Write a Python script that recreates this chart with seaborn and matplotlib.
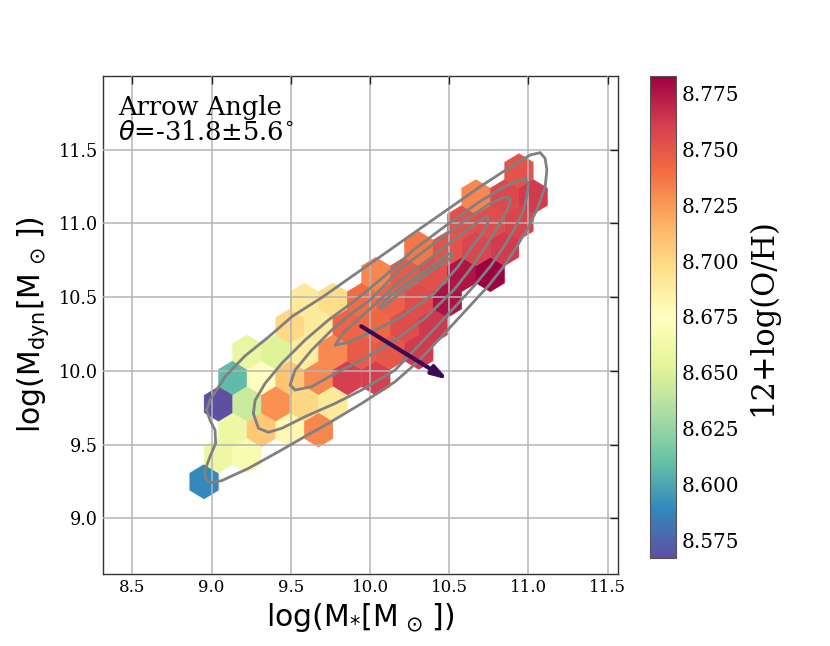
import numpy as np
import matplotlib
matplotlib.use("Agg")
import matplotlib.pyplot as plt
from matplotlib.colors import Normalize
import seaborn as sns

# ---------------- data ----------------
# hexbin cell centres: log stellar mass, log dynamical mass, mean 12+log(O/H)
log_mstar = [8.953,
             9.043, 9.224,
             9.134, 9.314, 9.495, 9.675,
             9.043, 9.224, 9.405, 9.585, 9.766,
             9.134, 9.314, 9.495, 9.675, 9.856, 10.037,
             9.224, 9.405, 9.585, 9.766, 9.946, 10.127, 10.308,
             9.495, 9.675, 9.856, 10.037, 10.217, 10.398,
             9.585, 9.766, 9.946, 10.127, 10.308, 10.488,
             10.037, 10.217, 10.398, 10.578, 10.759,
             10.308, 10.488, 10.669, 10.849,
             10.578, 10.759, 10.940,
             10.669, 10.849, 11.030,
             10.940]
log_mdyn = [9.248,
            9.424, 9.424,
            9.599, 9.599, 9.599, 9.599,
            9.775, 9.775, 9.775, 9.775, 9.775,
            9.951, 9.951, 9.951, 9.951, 9.951, 9.951,
            10.127, 10.127, 10.127, 10.127, 10.127, 10.127, 10.127,
            10.302, 10.302, 10.302, 10.302, 10.302, 10.302,
            10.478, 10.478, 10.478, 10.478, 10.478, 10.478,
            10.654, 10.654, 10.654, 10.654, 10.654,
            10.829, 10.829, 10.829, 10.829,
            11.005, 11.005, 11.005,
            11.181, 11.181, 11.181,
            11.356]
oh = [8.589,
      8.660, 8.668,
      8.660, 8.707, 8.681, 8.731,
      8.567, 8.643, 8.728, 8.700, 8.690,
      8.608, 8.675, 8.708, 8.730, 8.761, 8.761,
      8.658, 8.652, 8.688, 8.730, 8.748, 8.750, 8.762,
      8.700, 8.690, 8.744, 8.742, 8.755, 8.763,
      8.690, 8.697, 8.740, 8.745, 8.755, 8.777,
      8.731, 8.748, 8.753, 8.776, 8.783,
      8.736, 8.751, 8.757, 8.762,
      8.752, 8.754, 8.758,
      8.731, 8.756, 8.762,
      8.751]

# density contours (closed loops)
c1_x = [8.969, 8.99, 9.085, 9.21, 9.36, 9.51, 9.70, 9.885, 10.064, 10.274, 10.485, 10.695, 10.905,
        11.011, 11.074, 11.105, 11.116, 11.105, 11.053, 11.0, 10.926, 10.842, 10.75, 10.63, 10.45,
        10.30, 10.158, 9.948, 9.738, 9.569, 9.422, 9.232, 9.064, 8.99, 8.959, 8.959, 8.99, 9.026,
        9.022, 8.99, 8.969]
c1_y = [9.734, 9.80, 9.96, 10.10, 10.23, 10.37, 10.50, 10.64, 10.774, 10.933, 11.091, 11.249, 11.396,
        11.464, 11.480, 11.441, 11.362, 11.249, 11.091, 10.978, 10.842, 10.706, 10.58, 10.44, 10.23,
        10.06, 9.926, 9.779, 9.644, 9.542, 9.451, 9.338, 9.255, 9.241, 9.271, 9.327, 9.418, 9.508,
        9.598, 9.666, 9.734]
c2_x = [9.264, 9.275, 9.338, 9.443, 9.59, 9.738, 9.885, 10.0, 10.10, 10.274, 10.485, 10.695, 10.85,
        10.93, 10.98, 11.0, 10.99, 10.97, 10.92, 10.85, 10.76, 10.66, 10.55, 10.35, 10.158, 9.948,
        9.780, 9.590, 9.443, 9.359, 9.296, 9.264]
c2_y = [9.711, 9.80, 9.915, 10.051, 10.209, 10.345, 10.46, 10.56, 10.65, 10.82, 10.99, 11.15, 11.25,
        11.29, 11.30, 11.27, 11.19, 11.09, 10.98, 10.85, 10.71, 10.58, 10.45, 10.22, 10.005, 9.870,
        9.779, 9.689, 9.610, 9.583, 9.610, 9.711]
c3_x = [9.496, 9.527, 9.632, 9.759, 9.885, 10.0, 10.19, 10.40, 10.60, 10.75, 10.83, 10.87, 10.885,
        10.87, 10.82, 10.74, 10.64, 10.53, 10.35, 10.158, 9.948, 9.780, 9.632, 9.527, 9.496]
c3_y = [9.904, 10.005, 10.141, 10.277, 10.39, 10.48, 10.69, 10.86, 11.02, 11.13, 11.17, 11.18, 11.16,
        11.10, 11.0, 10.86, 10.70, 10.55, 10.36, 10.209, 10.073, 9.983, 9.892, 9.870, 9.904]
c4_x = [9.780, 9.832, 9.98, 10.19, 10.40, 10.58, 10.68, 10.74, 10.75, 10.72, 10.65, 10.55, 10.40,
        10.19, 9.98, 9.85, 9.780]
c4_y = [10.175, 10.26, 10.40, 10.61, 10.78, 10.93, 11.01, 11.05, 11.02, 10.95, 10.85, 10.70, 10.52,
        10.36, 10.25, 10.19, 10.175]
c5_x = [10.064, 10.095, 10.190, 10.295, 10.400, 10.485, 10.522, 10.516, 10.443, 10.337, 10.232,
        10.148, 10.085, 10.064]
c5_y = [10.431, 10.480, 10.560, 10.639, 10.718, 10.786, 10.801, 10.770, 10.718, 10.639, 10.560,
        10.492, 10.431, 10.431]
contours = [(c1_x, c1_y), (c2_x, c2_y), (c3_x, c3_y), (c4_x, c4_y), (c5_x, c5_y)]

arrow_start = (9.945, 10.302)
arrow_end = (10.492, 9.940)
angle_label = "Arrow Angle\n$\\theta$=-31.8±5.6$^{\\circ}$"

x_ticks = [8.5, 9.0, 9.5, 10.0, 10.5, 11.0, 11.5]
y_ticks = [9.0, 9.5, 10.0, 10.5, 11.0, 11.5]
cbar_ticks = [8.575, 8.600, 8.625, 8.650, 8.675, 8.700, 8.725, 8.750, 8.775]
oh_min, oh_max = 8.567, 8.783

# ---------------- style ----------------
sns.set_style("white")
plt.rcParams["font.family"] = ["DejaVu Serif"]
plt.rcParams["mathtext.fontset"] = "dejavusans"
for key in ["text.color", "axes.labelcolor", "xtick.color", "ytick.color"]:
    plt.rcParams[key] = "black"

fig = plt.figure(figsize=(8.3, 6.46), dpi=100)
ax = fig.add_axes([0.1241, 0.1115, 0.6205, 0.7709])
cax = fig.add_axes([0.7831, 0.1358, 0.031, 0.747])

# hexbin grid: cell width 0.1806 dex, row spacing 0.1757 dex
hb = ax.hexbin(log_mstar, log_mdyn, C=oh, reduce_C_function=np.mean,
               gridsize=(12, 6), extent=(8.953, 11.1202, 9.248, 11.3564),
               cmap="Spectral_r", norm=Normalize(oh_min, oh_max), mincnt=1,
               linewidths=0.3, edgecolors="face", zorder=1)

for cx, cy in contours:
    sns.lineplot(x=cx, y=cy, sort=False, estimator=None, ax=ax,
                 color="#808080", linewidth=2.0, zorder=3)

ax.annotate("", xy=arrow_end, xytext=arrow_start,
            arrowprops=dict(arrowstyle="-|>,head_length=0.9,head_width=0.28",
                            lw=3.0, color="#3c0a55", shrinkA=0, shrinkB=0),
            zorder=4)

ax.text(0.030, 0.962, angle_label, transform=ax.transAxes, ha="left", va="top",
        fontsize=18.5, linespacing=1.0, zorder=5)

ax.set_xlim(8.315, 11.565)
ax.set_ylim(8.622, 12.0)
ax.set_xticks(x_ticks)
ax.set_yticks(y_ticks)
ax.set_xticklabels([f"{t:.1f}" for t in x_ticks])
ax.set_yticklabels([f"{t:.1f}" for t in y_ticks])
ax.grid(True, color="#b5b5b5", linewidth=1.1)
ax.set_axisbelow(False)
ax.tick_params(direction="in", top=True, right=True, length=6, width=1, pad=3.5,
               color="#222222")
ax.tick_params(axis="x", labelsize=12)
ax.tick_params(axis="y", labelsize=12.7)
for s in ax.spines.values():
    s.set_color("#333333")
    s.set_linewidth(1.0)

ax.set_xlabel(r"$\rm log(M_{*}[M_{\,\odot\,}])$", fontsize=21.5, labelpad=4)
ax.set_ylabel(r"$\rm log(M_{dyn}[M_{\,\odot\,}])$", fontsize=21.5, labelpad=6)

cb = fig.colorbar(hb, cax=cax)
cb.set_ticks(cbar_ticks)
cb.set_ticklabels([f"{t:.3f}" for t in cbar_ticks])
cb.ax.tick_params(direction="in", length=7, width=1, labelsize=14.4, pad=4, color="#222222")
cb.outline.set_linewidth(0.8)
cb.outline.set_edgecolor("#555555")
cb.set_label("12+log(O/H)", fontsize=22, labelpad=6)

fig.savefig("out.png", dpi=100)
